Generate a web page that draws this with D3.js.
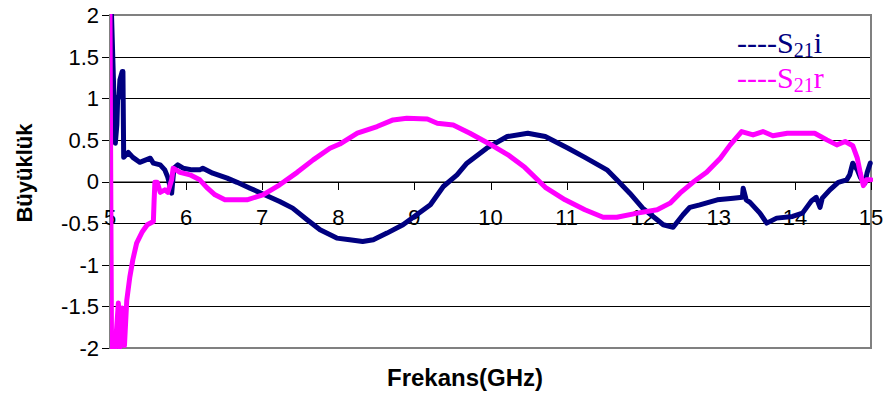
<!DOCTYPE html>
<html>
<head>
<meta charset="utf-8">
<script src="https://cdn.jsdelivr.net/npm/d3@7"></script>
<style>
	body { margin: 0; background: #fff; }
	svg text { font-family: 'Liberation Sans', Arial, sans-serif; }
</style>
</head>
<body>
<div id="chart"></div>
<script>
// Data (frequency in GHz, magnitude)
	var freqI = [5.02, 5.07, 5.09, 5.10, 5.12, 5.13, 5.16, 5.17, 5.18, 5.24, 5.30, 5.39, 5.53, 5.57, 5.66, 5.72, 5.76, 5.81, 5.84, 5.89, 5.96, 6.08, 6.18, 6.22, 6.35, 6.54, 6.67, 6.84, 7.01, 7.23, 7.40, 7.59, 7.76, 7.98, 8.15, 8.32, 8.46, 8.64, 8.85, 9.03, 9.21, 9.38, 9.56, 9.69, 9.95, 10.22, 10.49, 10.72, 11.02, 11.24, 11.53, 11.66, 11.83, 12.00, 12.19, 12.27, 12.40, 12.53, 12.62, 12.75, 12.98, 13.19, 13.31, 13.32, 13.36, 13.41, 13.54, 13.63, 13.76, 13.97, 14.10, 14.22, 14.28, 14.33, 14.36, 14.46, 14.57, 14.68, 14.72, 14.76, 14.82, 14.86, 14.92, 14.95, 14.99];
	var s21i = [2.00, 0.46, 0.68, 0.98, 1.04, 1.22, 1.32, 1.32, 0.29, 0.35, 0.29, 0.23, 0.28, 0.22, 0.20, 0.14, 0.05, -0.14, 0.16, 0.20, 0.16, 0.14, 0.14, 0.16, 0.10, 0.04, -0.01, -0.08, -0.15, -0.24, -0.32, -0.46, -0.58, -0.68, -0.70, -0.72, -0.70, -0.62, -0.52, -0.40, -0.28, -0.06, 0.08, 0.22, 0.40, 0.54, 0.58, 0.54, 0.40, 0.29, 0.14, 0.02, -0.14, -0.32, -0.46, -0.52, -0.55, -0.40, -0.31, -0.28, -0.22, -0.20, -0.19, -0.08, -0.22, -0.25, -0.38, -0.50, -0.44, -0.42, -0.38, -0.23, -0.19, -0.31, -0.20, -0.10, -0.01, 0.02, 0.08, 0.22, 0.14, 0.05, -0.02, 0.11, 0.22];

	var freqR = [5.00, 5.02, 5.07, 5.11, 5.13, 5.16, 5.19, 5.22, 5.26, 5.30, 5.35, 5.42, 5.49, 5.57, 5.58, 5.59, 5.62, 5.66, 5.72, 5.76, 5.81, 5.83, 5.92, 6.05, 6.18, 6.27, 6.38, 6.51, 6.80, 7.01, 7.23, 7.46, 7.67, 7.89, 8.02, 8.25, 8.51, 8.72, 8.90, 9.17, 9.30, 9.51, 9.73, 9.97, 10.23, 10.45, 10.72, 10.98, 11.24, 11.48, 11.66, 11.93, 12.19, 12.36, 12.49, 12.66, 12.84, 13.02, 13.15, 13.30, 13.45, 13.58, 13.71, 13.90, 14.07, 14.26, 14.42, 14.55, 14.66, 14.76, 14.82, 14.86, 14.90, 14.94, 15.00];
	var s21r = [2.00, -1.99, -1.99, -1.46, -1.99, -1.52, -1.97, -1.43, -1.15, -0.94, -0.74, -0.61, -0.52, -0.48, -0.22, -0.01, -0.01, -0.13, -0.10, -0.13, 0.02, 0.16, 0.11, 0.08, 0.02, -0.07, -0.16, -0.22, -0.22, -0.16, -0.04, 0.11, 0.26, 0.40, 0.45, 0.58, 0.66, 0.74, 0.76, 0.75, 0.70, 0.68, 0.58, 0.46, 0.32, 0.17, -0.07, -0.22, -0.34, -0.43, -0.43, -0.38, -0.34, -0.26, -0.14, -0.01, 0.11, 0.28, 0.44, 0.60, 0.56, 0.60, 0.55, 0.58, 0.58, 0.58, 0.50, 0.44, 0.48, 0.43, 0.28, 0.10, -0.05, 0.02, 0.02];

	var xTicks = [5, 6, 7, 8, 9, 10, 11, 12, 13, 14, 15];
	var yTicks = [-2, -1.5, -1, -0.5, 0, 0.5, 1, 1.5, 2];

// Layout (plot box edges in pixels)
	var width = 888, height = 397;
	var plotL = 110, plotR = 871, plotT = 15, plotB = 348;

	var svg = d3.select('#chart').append('svg')
		.attr('width', width)
		.attr('height', height);

	var x = d3.scaleLinear().domain([5, 15]).range([plotL, plotR]);
	var y = d3.scaleLinear().domain([-2, 2]).range([plotB, plotT]);

// Gridlines and y axis (ticks poke out to the left)
	svg.append('g')
		.attr('transform', 'translate(' + plotL + ',0)')
		.call(d3.axisLeft(y).tickValues(yTicks).tickSize(-(plotR - plotL)).tickSizeOuter(0).tickFormat(''))
		.call(g => g.select('.domain').remove())
		.call(g => g.selectAll('line').attr('stroke', '#000').attr('x1', -8).attr('shape-rendering', 'crispEdges'));

	svg.selectAll('.ylabel')
		.data(yTicks)
		.join('text')
			.attr('class', 'ylabel')
			.attr('x', 99)
			.attr('y', d => y(d))
			.attr('dy', '0.36em')
			.attr('text-anchor', 'end')
			.attr('font-size', 22)
			.text(d => d);

// Plot border
	svg.append('rect')
		.attr('x', plotL)
		.attr('y', plotT)
		.attr('width', plotR - plotL)
		.attr('height', plotB - plotT)
		.attr('fill', 'none')
		.attr('stroke', '#808080')
		.attr('stroke-width', 2);

// x axis at zero, ticks pointing down
	svg.append('g')
		.attr('transform', 'translate(0,' + y(0) + ')')
		.call(d3.axisBottom(x).tickValues(xTicks).tickSize(8).tickSizeOuter(0).tickFormat(''))
		.call(g => g.select('.domain').attr('stroke', '#000'))
		.call(g => g.selectAll('line').attr('stroke', '#000').attr('shape-rendering', 'crispEdges'));

	svg.selectAll('.xlabel')
		.data(xTicks)
		.join('text')
			.attr('class', 'xlabel')
			.attr('x', d => x(d))
			.attr('y', 225)
			.attr('text-anchor', 'middle')
			.attr('font-size', 22)
			.text(d => d);

// Curves
	svg.append('clipPath').attr('id', 'plot')
		.append('rect')
			.attr('x', plotL).attr('y', plotT - 1)
			.attr('width', plotR - plotL + 2).attr('height', plotB - plotT + 2);

	var line = d3.line()
		.x(d => x(d[0]))
		.y(d => y(d[1]));

	var series = [
		{ name: 'i', color: '#000080', pts: d3.zip(freqI, s21i) },
		{ name: 'r', color: '#ff00ff', pts: d3.zip(freqR, s21r) }
	];

	svg.append('g')
		.attr('clip-path', 'url(#plot)')
		.selectAll('path')
		.data(series)
		.join('path')
			.attr('d', d => line(d.pts))
			.attr('fill', 'none')
			.attr('stroke', d => d.color)
			.attr('stroke-width', 5)
			.attr('stroke-linejoin', 'round')
			.attr('stroke-linecap', 'round');

// Legend text box
	var legend = svg.selectAll('.legend')
		.data(series)
		.join('text')
			.attr('class', 'legend')
			.attr('x', 737)
			.attr('y', (d, i) => 53 + i * 35)
			.attr('fill', d => d.color)
			.style('font-family', "'Liberation Serif', 'Times New Roman', serif")
			.attr('font-size', 30);

	legend.append('tspan').text('----S');
	legend.append('tspan').attr('font-size', 20).attr('dy', 4).text('21');
	legend.append('tspan').attr('dy', -4).text(d => d.name);

// Axis titles
	svg.append('text')
		.attr('x', 465)
		.attr('y', 386)
		.attr('text-anchor', 'middle')
		.attr('font-size', 24)
		.attr('font-weight', 'bold')
		.text('Frekans(GHz)');

	svg.append('text')
		.attr('transform', 'translate(32,173) rotate(-90)')
		.attr('text-anchor', 'middle')
		.attr('font-size', 22)
		.attr('font-weight', 'bold')
		.text('Büyüklük');
</script>
</body>
</html>
